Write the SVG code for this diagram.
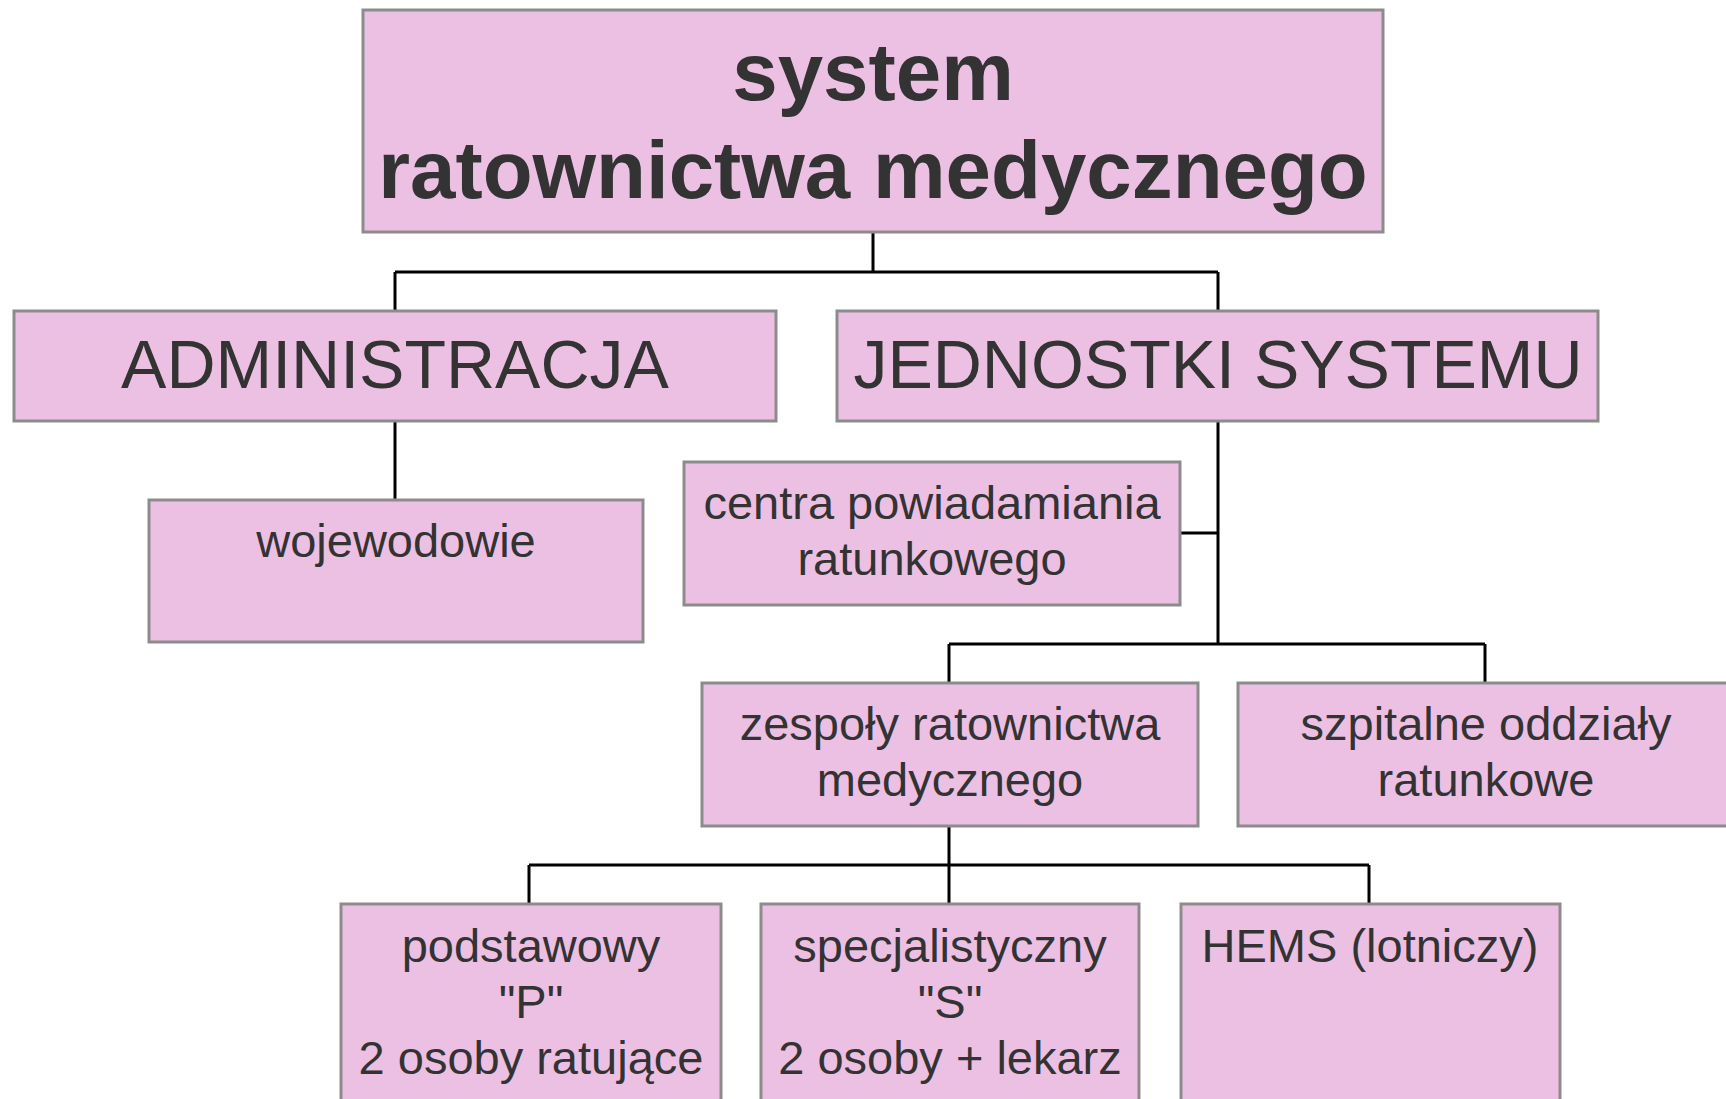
<svg xmlns="http://www.w3.org/2000/svg" width="1726" height="1099" viewBox="0 0 1726 1099">
<style>
.box{fill:#ecc0e3;stroke:#8c8c8c;stroke-width:3}
.t{font-family:"Liberation Sans",Arial,sans-serif;fill:#333333;text-anchor:middle}
.t1{font-size:81.7px;font-weight:bold}
.t2{font-size:68px}
.t3{font-size:47px}
.c{fill:none;stroke:#000000;stroke-width:3}
</style>
<rect width="1726" height="1099" fill="#ffffff"/>
<g id="connectors">
<path class="c" d="M873 233 V272 M395 272 H1218 M395 272 V311 M1218 272 V311"/>
<path class="c" d="M395 421 V500"/>
<path class="c" d="M1218 421 V644 M1180 533 H1218 M949 644 H1485 M949 644 V683 M1485 644 V683"/>
<path class="c" d="M949 826 V865 M529 865 H1369 M529 865 V904 M949 865 V904 M1369 865 V904"/>
</g>
<g id="system">
<rect class="box" x="363" y="10" width="1020" height="222"/>
<text class="t t1" x="873" y="100">system</text>
<text class="t t1" x="873" y="198">ratownictwa medycznego</text>
</g>
<g id="administracja">
<rect class="box" x="14" y="311" width="762" height="110"/>
<text class="t t2" x="395" y="388">ADMINISTRACJA</text>
</g>
<g id="jednostki">
<rect class="box" x="837" y="311" width="761" height="110"/>
<text class="t t2" x="1218" y="388">JEDNOSTKI SYSTEMU</text>
</g>
<g id="wojewodowie">
<rect class="box" x="149" y="500" width="494" height="142"/>
<text class="t t3" x="396" y="557">wojewodowie</text>
</g>
<g id="centra">
<rect class="box" x="684" y="462" width="496" height="143"/>
<text class="t t3" x="932" y="519">centra powiadamiania</text>
<text class="t t3" x="932" y="575">ratunkowego</text>
</g>
<g id="zespoly">
<rect class="box" x="702" y="683" width="496" height="143"/>
<text class="t t3" x="950" y="740">zespoły ratownictwa</text>
<text class="t t3" x="950" y="796">medycznego</text>
</g>
<g id="szpitalne">
<rect class="box" x="1238" y="683" width="496" height="143"/>
<text class="t t3" x="1486" y="740">szpitalne oddziały</text>
<text class="t t3" x="1486" y="796">ratunkowe</text>
</g>
<g id="podstawowy">
<rect class="box" x="341" y="904" width="380" height="220"/>
<text class="t t3" x="531" y="962">podstawowy</text>
<text class="t t3" x="531" y="1018">"P"</text>
<text class="t t3" x="531" y="1074">2 osoby ratujące</text>
</g>
<g id="specjalistyczny">
<rect class="box" x="761" y="904" width="378" height="220"/>
<text class="t t3" x="950" y="962">specjalistyczny</text>
<text class="t t3" x="950" y="1018">"S"</text>
<text class="t t3" x="950" y="1074">2 osoby + lekarz</text>
</g>
<g id="hems">
<rect class="box" x="1181" y="904" width="379" height="220"/>
<text class="t t3" x="1370" y="962">HEMS (lotniczy)</text>
</g>
</svg>
